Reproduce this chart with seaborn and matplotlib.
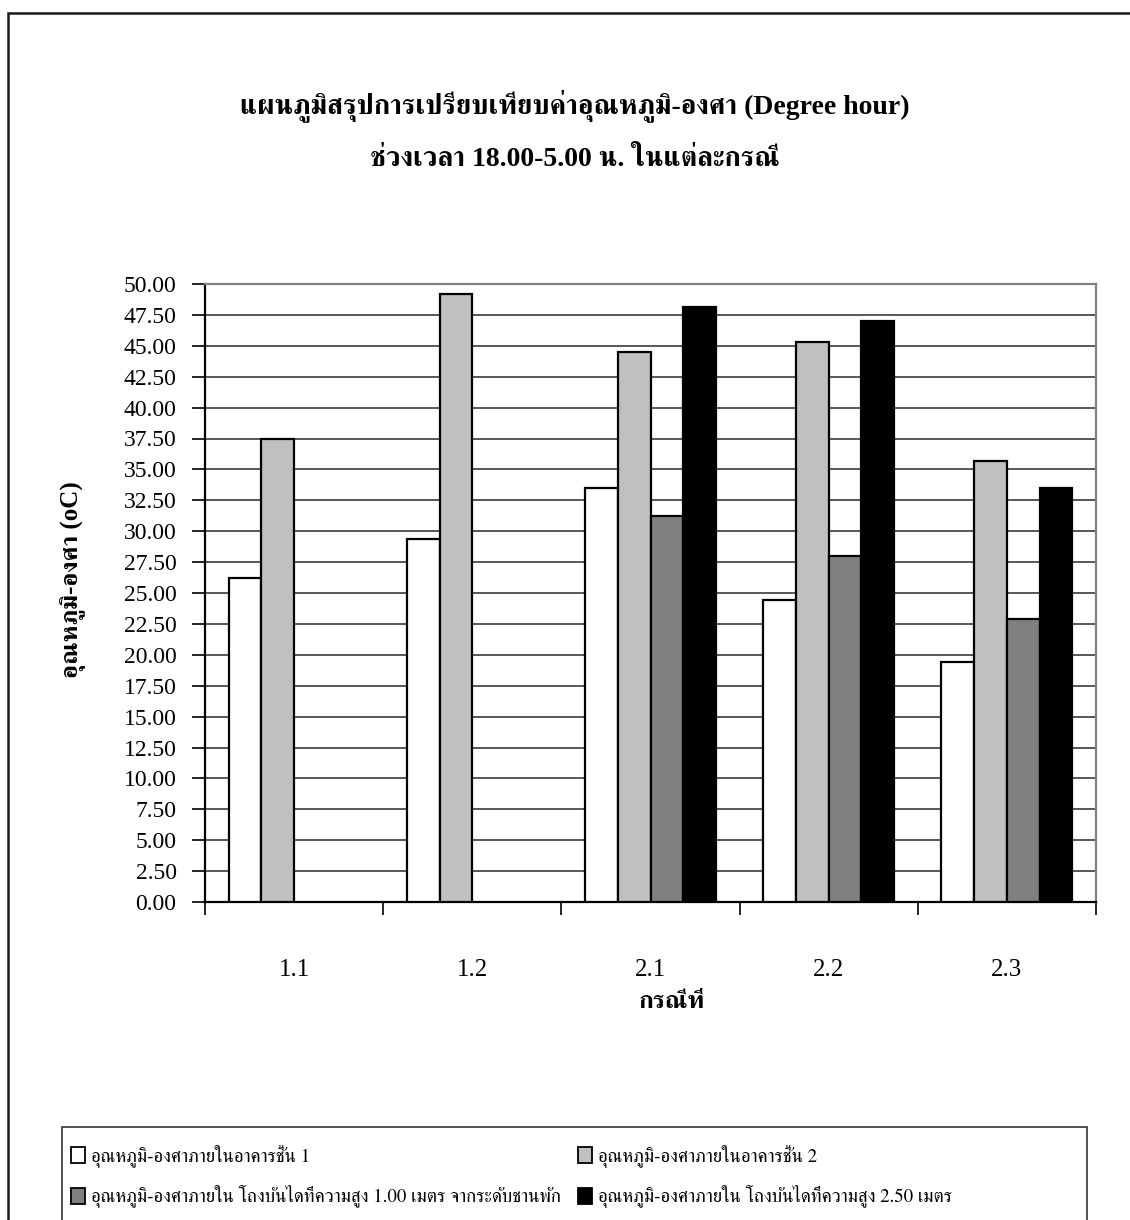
import numpy as np
import pandas as pd
import matplotlib
matplotlib.use("Agg")
import matplotlib.pyplot as plt
from matplotlib import font_manager
from matplotlib.ft2font import FT2Font
from matplotlib.patches import Patch, Rectangle
from matplotlib.ticker import FixedLocator, FormatStrFormatter
import seaborn as sns

# ---- data -------------------------------------------------------------
cases = ["1.1", "1.2", "2.1", "2.2", "2.3"]
series_names = [
    "อุณหภูมิ-องศาภายในอาคารชั้น 1",
    "อุณหภูมิ-องศาภายในอาคารชั้น 2",
    "อุณหภูมิ-องศาภายใน โถงบันไดที่ความสูง 1.00 เมตร จากระดับชานพัก",
    "อุณหภูมิ-องศาภายใน โถงบันไดที่ความสูง 2.50 เมตร",
]
floor1 = [26.2, 29.4, 33.5, 24.4, 19.4]
floor2 = [37.5, 49.2, 44.5, 45.3, 35.7]
stair_100 = [np.nan, np.nan, 31.2, 28.0, 22.9]
stair_250 = [np.nan, np.nan, 48.1, 47.0, 33.5]
series_colors = ["#FFFFFF", "#C0C0C0", "#808080", "#000000"]
y_ticks = np.arange(0, 50.01, 2.5)

title_text = "แผนภูมิสรุปการเปรียบเทียบค่าอุณหภูมิ-องศา (Degree hour)\n\nช่วงเวลา 18.00-5.00 น. ในแต่ละกรณี"
y_label = "อุณหภูมิ-องศา (oC)"
x_label = "กรณีที่"

# ---- fonts: Latin serif with a Thai-capable fallback ------------------
def families_with(char):
    found = []
    for entry in font_manager.fontManager.ttflist:
        try:
            cmap = FT2Font(entry.fname).get_charmap()
        except Exception:
            continue
        if ord(char) in cmap and entry.name not in found:
            found.append(entry.name)
    return found

thai_fams = families_with("ก")
thai_fams.sort(key=lambda n: (0 if "Serif" in n else 1, n))
serif_stack = ["Liberation Serif"] + thai_fams + ["DejaVu Sans"]
thai_stack = thai_fams + ["Liberation Serif", "DejaVu Sans"]
plt.rcParams["font.family"] = serif_stack

# ---- frame ------------------------------------------------------------
W, H = 1130, 1220
fig = plt.figure(figsize=(W / 100, H / 100), dpi=100)
fig.patch.set_facecolor("white")

ax = fig.add_axes([205 / W, 1 - 902 / H, (1096 - 205) / W, (902 - 284) / H])

df = pd.DataFrame({
    "case": cases * 4,
    "series": np.repeat(series_names, len(cases)),
    "value": floor1 + floor2 + stair_100 + stair_250,
})

sns.barplot(
    data=df, x="case", y="value", hue="series",
    order=cases, hue_order=series_names,
    palette=dict(zip(series_names, series_colors)),
    saturation=1, width=0.735, errorbar=None,
    edgecolor="black", linewidth=1.6, legend=False, ax=ax, zorder=3,
)

ax.set_xlim(-0.5, len(cases) - 0.5)
ax.set_ylim(0, 50)
ax.yaxis.set_major_locator(FixedLocator(y_ticks))
ax.yaxis.set_major_formatter(FormatStrFormatter("%.2f"))
ax.yaxis.grid(True, color="#4a4a4a", linewidth=1.3, zorder=0)
ax.xaxis.grid(False)
ax.set_axisbelow(True)

ax.tick_params(axis="y", direction="out", length=9.5, width=1.2,
               labelsize=17, pad=11, colors="black")
ax.set_xticks(range(len(cases)))
ax.set_xticklabels(cases)
ax.xaxis.set_minor_locator(FixedLocator(np.arange(-0.5, len(cases), 1.0)))
ax.tick_params(axis="x", which="major", length=0, labelsize=18, pad=41)
ax.tick_params(axis="x", which="minor", direction="out", length=9.5, width=1.2)

for side in ("left", "bottom"):
    ax.spines[side].set_color("black")
    ax.spines[side].set_linewidth(1.6)
for side in ("top", "right"):
    ax.spines[side].set_color("#808080")
    ax.spines[side].set_linewidth(1.6)

ax.set_xlabel("")
ax.set_ylabel("")

# ---- titles and axis labels --------------------------------------------
fig.text(575 / W, 1 - 131 / H, title_text, ha="center", va="center",
         fontsize=20, fontweight="bold", linespacing=1.0)
fig.text(73 / W, 1 - 580 / H, y_label, ha="center", va="center",
         rotation=90, fontsize=18, fontweight="bold")
fig.text(672 / W, 1 - 1002 / H, x_label, ha="center", va="center",
         fontsize=18, fontweight="bold")

# ---- outer border and legend box ---------------------------------------
fig.patches.append(Rectangle((8 / W, -0.05), 1.2, 1.05 - 12.5 / H,
                             transform=fig.transFigure, fill=False,
                             edgecolor="#1a1a1a", linewidth=1.8))
fig.patches.append(Rectangle((62 / W, -0.05), (1087 - 62) / W, 0.05 + 1 - 1127 / H,
                             transform=fig.transFigure, fill=False,
                             edgecolor="#333333", linewidth=1.2))

handles = [Patch(facecolor=c, edgecolor="black", linewidth=1.3) for c in series_colors]
order = [0, 2, 1, 3]
fig.legend([handles[i] for i in order], [series_names[i] for i in order],
           ncol=2, loc="upper left", bbox_to_anchor=(63 / W, 1 - 1137 / H),
           frameon=False, prop={"family": thai_stack, "size": 13.5},
           handlelength=0.75, handleheight=0.9, handletextpad=0.35,
           labelspacing=0.95, columnspacing=0.9, borderaxespad=0)

fig.savefig("out.png", dpi=100, facecolor="white")
